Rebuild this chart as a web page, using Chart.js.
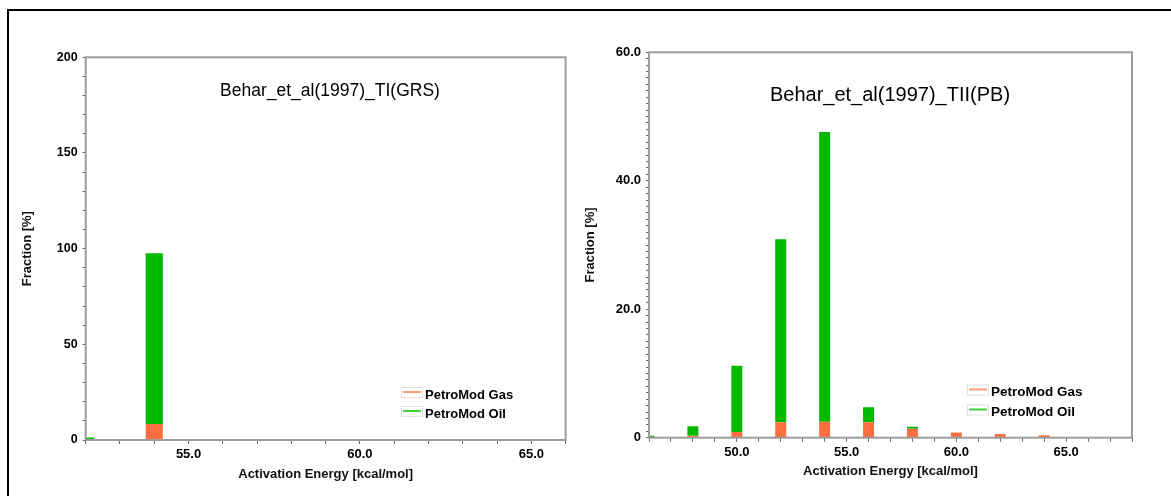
<!DOCTYPE html>
<html><head><meta charset="utf-8">
<script src="https://cdn.jsdelivr.net/npm/chart.js@4.4.1/dist/chart.umd.min.js"></script>
<style>
html,body{margin:0;padding:0;background:#fff;width:1171px;height:496px;overflow:hidden;}
#frame{position:absolute;left:7px;top:9px;width:1180px;height:500px;border-top:2px solid #000;border-left:2px solid #000;}
canvas{position:absolute;top:0;}
#c1{left:0}
#c2{left:570px}
</style></head><body>
<div id="frame"></div>
<canvas id="c1" width="590" height="496"></canvas>
<canvas id="c2" width="601" height="496"></canvas>
<script>
// ---------- data ----------
const seriesNames = ['PetroMod Gas', 'PetroMod Oil'];

const titleGRS = 'Behar_et_al(1997)_TI(GRS)';
const energyGRS = [52, 54, 56, 58, 60];
const gasGRS    = [0.3, 8.4, 0.4, 0.3, 0.3];
const oilGRS    = [1.0, 89.2, 0, 0, 0];
const xTickValuesGRS = [55, 60, 65];
const xTickLabelsGRS = ['55.0', '60.0', '65.0'];
const yTickValuesGRS = [0, 50, 100, 150, 200];
const yTickLabelsGRS = ['0', '50', '100', '150', '200'];

const titlePB = 'Behar_et_al(1997)_TII(PB)';
const energyPB = [46, 48, 50, 52, 54, 56, 58, 60, 62, 64, 66];
const gasPB    = [0.05, 0.3, 0.9, 2.4, 2.5, 2.4, 1.4, 0.82, 0.56, 0.37, 0.1];
const oilPB    = [0.25, 1.5, 10.3, 28.5, 45.1, 2.35, 0.3, 0, 0, 0, 0];
const xTickValuesPB = [50, 55, 60, 65];
const xTickLabelsPB = ['50.0', '55.0', '60.0', '65.0'];
const yTickValuesPB = [0, 20, 40, 60];
const yTickLabelsPB = ['0', '20.0', '40.0', '60.0'];

const xAxisTitle = 'Activation Energy [kcal/mol]';
const yAxisTitle = 'Fraction [%]';

// ---------- helpers ----------
const FAM = '"Liberation Sans", Arial, Helvetica, sans-serif';
const GAS = '#fd6f41';
const OIL = '#00ba00';

function stepTicks(min, max, step) {
  const a = [];
  for (let v = min; v <= max + 1e-9; v += step) a.push({ value: Math.round(v * 1000) / 1000 });
  return a;
}
function labeler(vals, labels) {
  return (v) => {
    const i = vals.findIndex(t => Math.abs(t - v) < 1e-6);
    return i >= 0 ? labels[i] : '';
  };
}

const framePlugin = {
  id: 'frame',
  afterDatasetsDraw(chart) {
    const a = chart.chartArea, ctx = chart.ctx;
    ctx.save();
    ctx.strokeStyle = '#9c9c9c';
    ctx.lineWidth = 2;
    ctx.strokeRect(a.left, a.top, a.right - a.left, a.bottom - a.top);
    ctx.restore();
  }
};
const textPlugin = {
  id: 'inner',
  afterDraw(chart, args, o) {
    const ctx = chart.ctx;
    ctx.save();
    ctx.fillStyle = '#000';
    ctx.font = o.titleFont;
    ctx.textAlign = 'center';
    ctx.textBaseline = 'middle';
    ctx.fillText(o.title, o.titleX, o.titleY);
    // legend
    chart.data.datasets.forEach((ds, i) => {
      const ly = o.legendY + i * o.legendGap;
      ctx.fillStyle = '#fff';
      ctx.strokeStyle = '#e2e2e2';
      ctx.lineWidth = 1;
      ctx.fillRect(o.legendX, ly - 5, o.legendW, 10);
      ctx.strokeRect(o.legendX + 0.5, ly - 5 + 0.5, o.legendW, 10);
      ctx.strokeStyle = o.legendColors[i];
      ctx.lineWidth = 2;
      ctx.beginPath();
      ctx.moveTo(o.legendX + 2, ly);
      ctx.lineTo(o.legendX + o.legendW - 1, ly);
      ctx.stroke();
      ctx.fillStyle = '#000';
      ctx.font = o.legendFont;
      ctx.textAlign = 'left';
      ctx.textBaseline = 'middle';
      ctx.fillText(ds.label, o.legendX + o.legendW + 3, ly + o.textDy);
    });
    ctx.restore();
  }
};

function makeChart(el, c) {
  const pts = (xs, ys) => xs.map((x, i) => ({ x: x, y: ys[i] }));
  return new Chart(document.getElementById(el), {
    type: 'bar',
    data: {
      datasets: [
        { label: seriesNames[0], data: pts(c.energy, c.gas), backgroundColor: c.gasColor, borderWidth: 0, stack: 's' },
        { label: seriesNames[1], data: pts(c.energy, c.oil), backgroundColor: c.oilColor, borderWidth: 0, stack: 's' }
      ]
    },
    options: {
      responsive: false,
      animation: false,
      layout: { padding: c.padding },
      barPercentage: 0.5,
      categoryPercentage: 1.0,
      plugins: {
        legend: { display: false },
        tooltip: { enabled: false },
        inner: c.inner
      },
      scales: {
        x: {
          type: 'linear', min: c.xMin, max: c.xMax, stacked: true, offset: false,
          afterBuildTicks: (s) => { s.ticks = stepTicks(c.xMin, c.xMax, 1); },
          afterFit: (s) => { s.height = c.xAxisH; },
          grid: { offset: false, drawOnChartArea: false, drawTicks: true, tickLength: 4, tickColor: '#666', tickWidth: 1 },
          border: { display: false },
          ticks: { autoSkip: false, maxRotation: 0, padding: c.xTickPad, color: '#000',
                   font: { family: FAM, size: c.xTickSize, weight: 'bold' },
                   callback: labeler(c.xTickValues, c.xTickLabels) },
          title: { display: true, text: xAxisTitle, color: '#111',
                   font: { family: FAM, size: 13, weight: 'bold' }, padding: { top: c.xTitlePad, bottom: 0 } }
        },
        y: {
          type: 'linear', min: 0, max: c.yMax, stacked: true,
          afterBuildTicks: (s) => { s.ticks = stepTicks(0, c.yMax, c.yStep); },
          afterFit: (s) => { s.width = c.yAxisW; },
          grid: { drawOnChartArea: false, drawTicks: true, tickLength: 3, tickColor: '#666', tickWidth: 1 },
          border: { display: false },
          ticks: { autoSkip: false, padding: c.yTickPad, color: '#000',
                   font: { family: FAM, size: c.yTickSize, weight: 'bold' },
                   callback: labeler(c.yTickValues, c.yTickLabels) },
          title: { display: true, text: yAxisTitle, color: '#111',
                   font: { family: FAM, size: 13, weight: 'bold' }, padding: { top: c.yTitlePad, bottom: 0 } }
        }
      }
    },
    plugins: [framePlugin, textPlugin]
  });
}

makeChart('c1', {
  energy: energyGRS, gas: gasGRS, oil: oilGRS, gasColor: GAS, oilColor: OIL,
  xMin: 52, xMax: 66, yMax: 200, yStep: 10,
  xTickValues: xTickValuesGRS, xTickLabels: xTickLabelsGRS,
  yTickValues: yTickValuesGRS, yTickLabels: yTickLabelsGRS,
  padding: { left: 13, top: 57.3, right: 24.4, bottom: 14 },
  xAxisH: 42, yAxisW: 72.7, xTickSize: 13, yTickSize: 12.5, xTickPad: 3, yTickPad: 5,
  xTitlePad: 6.2, yTitlePad: 6.7,
  inner: { title: titleGRS, titleX: 330, titleY: 91, titleFont: '17.5px ' + FAM,
           legendX: 401, legendY: 392, legendGap: 19, legendW: 21, textDy: 3,
           legendFont: 'bold 13px ' + FAM, legendColors: ['#ff9a7a', '#3fd03f'] }
});

makeChart('c2', {
  energy: energyPB, gas: gasPB, oil: oilPB, gasColor: GAS, oilColor: OIL,
  xMin: 46, xMax: 68, yMax: 60, yStep: 1,
  xTickValues: xTickValuesPB, xTickLabels: xTickLabelsPB,
  yTickValues: yTickValuesPB, yTickLabels: yTickLabelsPB,
  padding: { left: 5, top: 52.3, right: 39, bottom: 16.3 },
  xAxisH: 42, yAxisW: 74, xTickSize: 13, yTickSize: 13, xTickPad: 3, yTickPad: 5,
  xTitlePad: 5.9, yTitlePad: 7.7,
  inner: { title: titlePB, titleX: 320, titleY: 95, titleFont: '20px ' + FAM,
           legendX: 397, legendY: 389.5, legendGap: 20, legendW: 21, textDy: 3,
           legendFont: 'bold 13.5px ' + FAM, legendColors: ['#ff9a7a', '#3fd03f'] }
});
</script>
</body></html>
